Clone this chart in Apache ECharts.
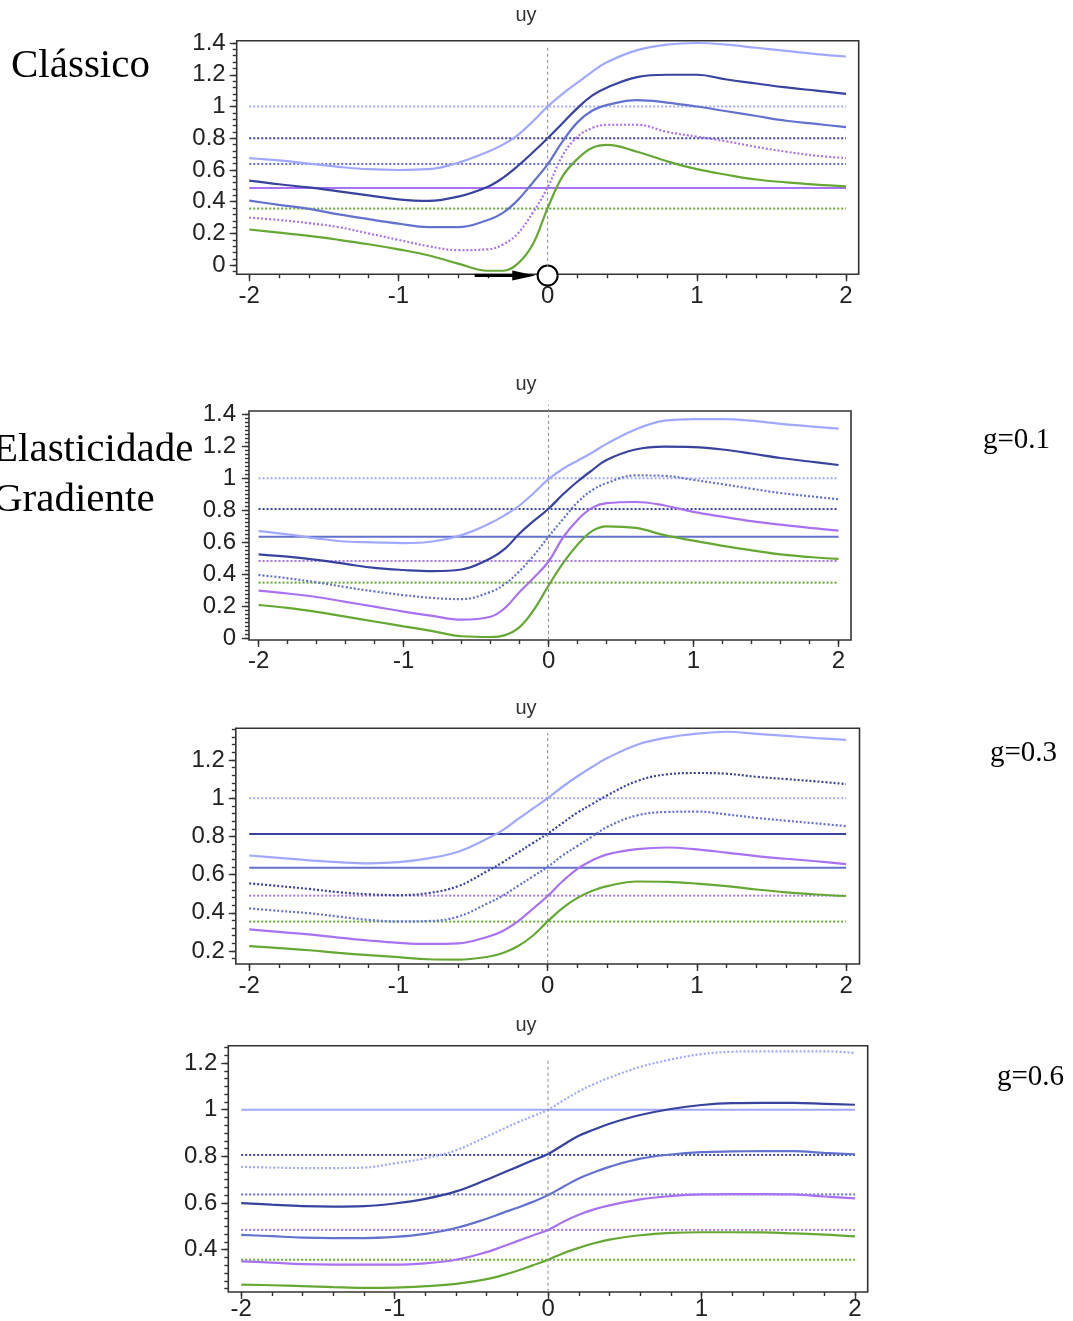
<!DOCTYPE html>
<html><head><meta charset="utf-8">
<script src="https://cdn.jsdelivr.net/npm/echarts@6/dist/echarts.min.js"></script>
<style>html,body{margin:0;padding:0;background:#fff}#c{width:1073px;height:1321px}</style>
</head><body><div id="c"></div>
<script>
// shared x sample positions
const xs = [-2,-1.8,-1.6,-1.4,-1.2,-1,-0.8,-0.6,-0.4,-0.3,-0.2,-0.1,0,0.1,0.2,0.3,0.4,0.6,0.8,1,1.2,1.4,1.6,1.8,2];
const xTicks = [-2,-1,0,1,2];
const yTicks1 = [0,0.2,0.4,0.6,0.8,1,1.2,1.4];
const yTicks2 = [0,0.2,0.4,0.6,0.8,1,1.2,1.4];
const yTicks3 = [0.2,0.4,0.6,0.8,1,1.2];
const yTicks4 = [0.4,0.6,0.8,1,1.2];

// Panel 1 (Clássico)
const p1LightBlue = [0.675,0.66,0.64,0.62,0.605,0.60,0.605,0.645,0.715,0.76,0.82,0.905,1.0,1.08,1.15,1.22,1.28,1.355,1.39,1.40,1.39,1.37,1.35,1.33,1.315];
const p1DarkBlue  = [0.533,0.51,0.49,0.465,0.44,0.415,0.405,0.432,0.495,0.55,0.625,0.71,0.80,0.895,0.99,1.07,1.12,1.185,1.20,1.20,1.17,1.145,1.12,1.10,1.08];
const p1MidBlue   = [0.407,0.38,0.355,0.32,0.29,0.262,0.24,0.24,0.285,0.33,0.41,0.52,0.635,0.78,0.90,0.975,1.01,1.04,1.025,1.0,0.97,0.94,0.91,0.89,0.87];
const p1Purple    = [0.30,0.285,0.265,0.24,0.20,0.16,0.12,0.095,0.10,0.13,0.20,0.33,0.49,0.69,0.81,0.865,0.885,0.885,0.84,0.81,0.78,0.745,0.715,0.69,0.675];
const p1Green     = [0.225,0.205,0.185,0.16,0.132,0.10,0.063,0.01,-0.035,-0.035,0.01,0.13,0.36,0.56,0.67,0.74,0.758,0.715,0.655,0.605,0.57,0.54,0.522,0.508,0.497];
const refs1 = [1.0,0.80,0.638,0.487,0.357];
const vline1 = [-0.01,1.38];

// Panel 2 (g=0.1)
const p2LightBlue = [0.67,0.65,0.625,0.605,0.60,0.595,0.605,0.645,0.72,0.77,0.83,0.91,0.995,1.06,1.11,1.16,1.215,1.305,1.36,1.37,1.37,1.36,1.34,1.325,1.31];
const p2DarkBlue  = [0.525,0.51,0.49,0.465,0.44,0.427,0.42,0.43,0.50,0.56,0.655,0.735,0.81,0.90,0.98,1.05,1.115,1.18,1.198,1.195,1.18,1.155,1.127,1.105,1.083];
const p2MidBlue   = [0.396,0.375,0.35,0.32,0.293,0.27,0.252,0.245,0.29,0.34,0.42,0.52,0.635,0.745,0.85,0.925,0.97,1.018,1.015,0.99,0.963,0.935,0.908,0.888,0.869];
const p2Purple    = [0.298,0.28,0.258,0.228,0.198,0.167,0.14,0.117,0.135,0.19,0.29,0.38,0.48,0.63,0.74,0.815,0.845,0.852,0.83,0.79,0.76,0.732,0.71,0.69,0.673];
const p2Green     = [0.208,0.19,0.165,0.135,0.105,0.075,0.045,0.013,0.008,0.02,0.07,0.18,0.33,0.47,0.585,0.67,0.70,0.69,0.645,0.61,0.578,0.55,0.524,0.508,0.496];
const refs2 = [1.0,0.808,0.635,0.483,0.348];
const vline2 = [-0.01,1.46];

// Panel 3 (g=0.3)
const p3LightBlue = [0.70,0.688,0.675,0.665,0.659,0.665,0.685,0.72,0.79,0.833,0.89,0.945,1.0,1.06,1.115,1.165,1.21,1.28,1.317,1.338,1.348,1.337,1.326,1.315,1.305];
const p3DarkBlue  = [0.554,0.54,0.525,0.508,0.497,0.493,0.503,0.54,0.62,0.665,0.715,0.765,0.815,0.87,0.925,0.97,1.015,1.09,1.125,1.132,1.128,1.112,1.10,1.088,1.074];
const p3MidBlue   = [0.423,0.41,0.398,0.38,0.363,0.355,0.357,0.38,0.45,0.49,0.54,0.59,0.64,0.70,0.75,0.80,0.85,0.91,0.928,0.93,0.915,0.897,0.882,0.868,0.854];
const p3Purple    = [0.313,0.30,0.287,0.27,0.255,0.243,0.237,0.24,0.275,0.305,0.355,0.42,0.488,0.565,0.63,0.675,0.706,0.733,0.742,0.732,0.715,0.697,0.683,0.67,0.655];
const p3Green     = [0.226,0.215,0.204,0.19,0.178,0.168,0.157,0.155,0.17,0.19,0.225,0.28,0.355,0.425,0.478,0.515,0.54,0.564,0.562,0.553,0.54,0.522,0.507,0.496,0.488];
const refs3 = [1.0,0.813,0.636,0.49,0.354];
const vline3 = [0.137,1.34];

// Panel 4 (g=0.6)
const p4LightBlue = [0.755,0.752,0.75,0.75,0.752,0.77,0.792,0.826,0.885,0.915,0.945,0.972,1.0,1.04,1.078,1.11,1.137,1.183,1.215,1.238,1.248,1.25,1.25,1.25,1.243];
const p4DarkBlue  = [0.60,0.593,0.587,0.585,0.587,0.598,0.618,0.65,0.70,0.728,0.755,0.783,0.81,0.85,0.888,0.915,0.94,0.977,1.003,1.02,1.028,1.029,1.029,1.025,1.021];
const p4MidBlue   = [0.464,0.458,0.452,0.45,0.45,0.455,0.468,0.493,0.533,0.557,0.58,0.605,0.634,0.67,0.705,0.732,0.755,0.79,0.808,0.818,0.821,0.822,0.822,0.815,0.809];
const p4Purple    = [0.35,0.345,0.338,0.336,0.336,0.336,0.342,0.357,0.39,0.413,0.437,0.461,0.485,0.52,0.55,0.573,0.59,0.616,0.63,0.637,0.638,0.638,0.637,0.628,0.62];
const p4Green     = [0.251,0.248,0.244,0.24,0.237,0.238,0.244,0.254,0.274,0.29,0.31,0.333,0.357,0.385,0.408,0.428,0.443,0.462,0.472,0.475,0.475,0.474,0.47,0.465,0.457];
const refs4 = [1.0,0.806,0.637,0.485,0.357];
const vline4 = [0.22,1.21];

// Arrow + circle annotation in panel 1
const arrowShaft = [[-0.489,-0.065],[-0.17,-0.065]];
const arrowHead = [-0.16,-0.065];
const markerCircle = [0,-0.065];

const titles = ['uy','uy','uy','uy'];
const sideLabels = ['Clássico','Elasticidade','Gradiente','g=0.1','g=0.3','g=0.6'];

const colors = ['#a0a9ff','#38429f','#6371cf','#a872f2','#66a834'];
const DOT = [2,2];

const panels = [
  {curves:[p1LightBlue,p1DarkBlue,p1MidBlue,p1Purple,p1Green], cDot:[0,0,0,1,0], refs:refs1, rDot:[1,1,1,0,1], yTicks:yTicks1, vline:vline1,
   grid:{left:236.7, top:40.7, width:622, height:233.6}, xr:[-2.084,2.085], yr:[-0.0573,1.4146], yMinor:0.04, lm:11},
  {curves:[p2LightBlue,p2DarkBlue,p2MidBlue,p2Purple,p2Green], cDot:[0,0,1,0,0], refs:refs2, rDot:[1,1,0,1,1], yTicks:yTicks2, vline:vline2,
   grid:{left:249, top:411, width:602, height:229}, xr:[-2.066,2.086], yr:[-0.0106,1.4206], yMinor:0.025, lm:13},
  {curves:[p3LightBlue,p3DarkBlue,p3MidBlue,p3Purple,p3Green], cDot:[0,1,1,0,0], refs:refs3, rDot:[1,0,0,1,1], yTicks:yTicks3, vline:vline3,
   grid:{left:235.8, top:728.3, width:623.7, height:235.7}, xr:[-2.09,2.09], yr:[0.132,1.366], yMinor:0.04, lm:11},
  {curves:[p4LightBlue,p4DarkBlue,p4MidBlue,p4Purple,p4Green], cDot:[1,0,0,0,0], refs:refs4, rDot:[0,1,1,1,1], yTicks:yTicks4, vline:vline4,
   grid:{left:228.3, top:1045.7, width:639.4, height:246.6}, xr:[-2.084,2.083], yr:[0.219,1.274], yMinor:0.2/6, lm:11}
];
const xLabelMargin = [10, 9, 10, 5];

function steps(a, b, st) {
  const out = [];
  const k0 = Math.ceil(a / st - 1e-9), k1 = Math.floor(b / st + 1e-9);
  for (let k = k0; k <= k1; k++) out.push(+(k * st).toFixed(6));
  return out;
}

const FONT = 'Liberation Sans, Arial, sans-serif';
const SERIF = 'Liberation Serif, Times New Roman, serif';
const grids = [], xAxes = [], yAxes = [], series = [];

panels.forEach((p, i) => {
  grids.push(Object.assign({show:true, borderColor:'#333', borderWidth:1.6, backgroundColor:'transparent', containLabel:false}, p.grid));
  const tickStyle = {color:'#333', width:1.4};
  const noLine = {show:false, onZero:false};
  // major axes: index i
  xAxes[i] = {type:'value', gridIndex:i, min:p.xr[0], max:p.xr[1], position:'bottom',
    axisLine:noLine, splitLine:{show:false},
    axisTick:{show:true, customValues:xTicks, length:7, lineStyle:tickStyle},
    axisLabel:{show:true, customValues:xTicks, margin:xLabelMargin[i], fontSize:24, color:'#222', fontFamily:FONT, formatter:v=>String(v)}};
  yAxes[i] = {type:'value', gridIndex:i, min:p.yr[0], max:p.yr[1], position:'left',
    axisLine:noLine, splitLine:{show:false},
    axisTick:{show:true, customValues:p.yTicks, length:7, lineStyle:tickStyle},
    axisLabel:{show:true, customValues:p.yTicks, margin:p.lm, fontSize:24, color:'#222', fontFamily:FONT, formatter:v=>String(v)}};
  // minor axes: index 4+i
  xAxes[4+i] = {type:'value', gridIndex:i, min:p.xr[0], max:p.xr[1], position:'bottom',
    axisLine:noLine, splitLine:{show:false}, axisLabel:{show:false},
    axisTick:{show:true, customValues:steps(-2, 2, 0.2), length:4, lineStyle:tickStyle}};
  yAxes[4+i] = {type:'value', gridIndex:i, min:p.yr[0], max:p.yr[1], position:'left',
    axisLine:noLine, splitLine:{show:false}, axisLabel:{show:false},
    axisTick:{show:true, customValues:steps(p.yr[0], p.yr[1], p.yMinor), length:4, lineStyle:tickStyle}};

  const base = {type:'line', xAxisIndex:i, yAxisIndex:i, showSymbol:false, silent:true, animation:false};
  // reference horizontal lines
  p.refs.forEach((v, k) => {
    series.push(Object.assign({}, base, {data:[[xTicks[0], v],[xTicks[xTicks.length-1], v]], z:2,
      lineStyle:{color:colors[k], width:2, type:p.rDot[k] ? DOT : 'solid'}}));
  });
  // curves
  p.curves.forEach((arr, k) => {
    series.push(Object.assign({}, base, {data:xs.map((x, j) => [x, arr[j]]), smooth:0.4, z:3,
      lineStyle:{color:colors[k], width:2.2, type:p.cDot[k] ? DOT : 'solid'}}));
  });
  // vertical dashed line at x=0
  series.push(Object.assign({}, base, {data:[[0, p.vline[0]],[0, p.vline[1]]], clip:false, z:5,
    lineStyle:{color:'#8a8a8a', width:1, type:[3,3]}}));
});

// annotation (panel 1)
series.push({type:'line', xAxisIndex:0, yAxisIndex:0, data:arrowShaft, showSymbol:false, clip:false, silent:true, z:6,
  lineStyle:{color:'#000', width:3}});
series.push({type:'scatter', xAxisIndex:0, yAxisIndex:0, data:[arrowHead], clip:false, silent:true, z:6,
  symbol:'path://M0,0 L23,4.5 L0,9 Z', symbolSize:[23,10], symbolKeepAspect:false, itemStyle:{color:'#000', opacity:1}});
series.push({type:'scatter', xAxisIndex:0, yAxisIndex:0, data:[markerCircle], clip:false, silent:true, z:4,
  symbol:'circle', symbolSize:20, itemStyle:{color:'#fff', borderColor:'#000', borderWidth:2, opacity:1}});

const graphic = [];
const titleY = [15, 384, 708, 1025];
titleY.forEach((y, i) => graphic.push({type:'text', x:526, y:y, style:{text:titles[i], font:'20px ' + FONT, fill:'#333', align:'center', verticalAlign:'middle'}}));
graphic.push({type:'text', x:11, y:66, style:{text:sideLabels[0], font:'41px ' + SERIF, fill:'#000', align:'left', verticalAlign:'middle'}});
graphic.push({type:'text', x:-7, y:450, style:{text:sideLabels[1], font:'41px ' + SERIF, fill:'#000', align:'left', verticalAlign:'middle'}});
graphic.push({type:'text', x:-7, y:500, style:{text:sideLabels[2], font:'41px ' + SERIF, fill:'#000', align:'left', verticalAlign:'middle'}});
graphic.push({type:'text', x:983, y:440, style:{text:sideLabels[3], font:'29px ' + SERIF, fill:'#000', align:'left', verticalAlign:'middle'}});
graphic.push({type:'text', x:990, y:753, style:{text:sideLabels[4], font:'29px ' + SERIF, fill:'#000', align:'left', verticalAlign:'middle'}});
graphic.push({type:'text', x:997, y:1077, style:{text:sideLabels[5], font:'29px ' + SERIF, fill:'#000', align:'left', verticalAlign:'middle'}});

const chart = echarts.init(document.getElementById('c'), null, {renderer:'canvas'});
chart.setOption({
  backgroundColor:'#fff',
  animation:false,
  grid:grids, xAxis:xAxes, yAxis:yAxes, series:series, graphic:graphic
});
</script></body></html>
